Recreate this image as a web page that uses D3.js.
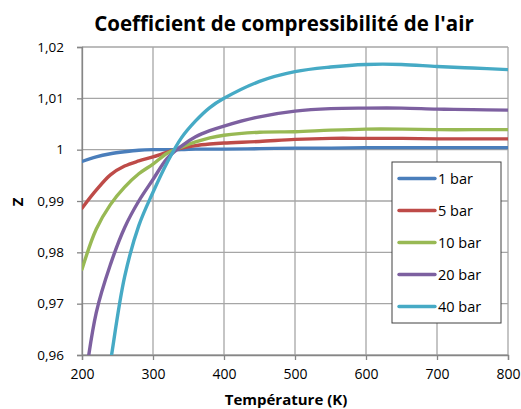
<!DOCTYPE html>
<html>
<head>
<meta charset="utf-8">
<script src="https://cdn.jsdelivr.net/npm/d3@7"></script>
<style>
  body { margin: 0; background: #fff; }
  text { font-family: "Open Sans", sans-serif; }
</style>
</head>
<body>
<div id="chart"></div>
<script>
// temperatures (K)
const temperatures = [200, 220, 240, 260, 280, 300, 320, 340, 360, 380, 400, 450, 500, 550, 600, 650, 700, 750, 800];

// Z values
const z1bar  = [0.9977, 0.9986, 0.9992, 0.9996, 0.9999, 1.0000, 1.0000, 1.0000, 1.0001, 1.0001, 1.0001, 1.0002, 1.0003, 1.0003, 1.0004, 1.0004, 1.0004, 1.0004, 1.0004];
const z5bar  = [0.9886, 0.9921, 0.9951, 0.9968, 0.9978, 0.9986, 0.9995, 1.0003, 1.0008, 1.0011, 1.0013, 1.0016, 1.0020, 1.0022, 1.0022, 1.0022, 1.0021, 1.0021, 1.0021];
const z10bar = [0.9767, 0.9845, 0.9893, 0.9927, 0.9953, 0.9972, 0.9993, 1.0005, 1.0015, 1.0023, 1.0028, 1.0034, 1.0035, 1.0038, 1.0040, 1.0040, 1.0039, 1.0039, 1.0039];
const z20bar = [0.9505, 0.9682, 0.9776, 0.9848, 0.9900, 0.9942, 0.9983, 1.0007, 1.0025, 1.0037, 1.0046, 1.0064, 1.0075, 1.0080, 1.0081, 1.0081, 1.0079, 1.0078, 1.0077];
const z40bar = [0.9180, 0.9400, 0.9585, 0.9752, 0.9852, 0.9917, 0.9975, 1.0023, 1.0056, 1.0082, 1.0100, 1.0133, 1.0152, 1.0161, 1.0166, 1.0166, 1.0162, 1.0159, 1.0156];

const seriesNames = ["1 bar", "5 bar", "10 bar", "20 bar", "40 bar"];
const seriesValues = [z1bar, z5bar, z10bar, z20bar, z40bar];
const colors = ["#4a7ebb", "#be4b48", "#98b954", "#7d60a0", "#46aac5"];

const xTicks = [200, 300, 400, 500, 600, 700, 800];
const yTicks = [0.96, 0.97, 0.98, 0.99, 1, 1.01, 1.02];

const width = 521, height = 409;
const margin = { top: 47, right: 13, bottom: 54, left: 82 };
const innerW = width - margin.left - margin.right;
const innerH = height - margin.top - margin.bottom;

const svg = d3.select("#chart").append("svg")
  .attr("width", width)
  .attr("height", height);

const x = d3.scaleLinear().domain([200, 800]).range([0, innerW]);
const y = d3.scaleLinear().domain([0.96, 1.02]).range([innerH, 0]);

const g = svg.append("g")
  .attr("transform", "translate(" + margin.left + "," + margin.top + ")");

svg.append("defs").append("clipPath").attr("id", "clip")
  .append("rect").attr("width", innerW).attr("height", innerH);

// grid
g.selectAll(".hgrid").data(yTicks).join("line")
  .attr("x1", 0).attr("x2", innerW)
  .attr("y1", d => y(d)).attr("y2", d => y(d))
  .attr("stroke", "#a6a6a6").attr("stroke-width", 1.3);

g.selectAll(".vgrid").data(xTicks).join("line")
  .attr("y1", 0).attr("y2", innerH)
  .attr("x1", d => x(d)).attr("x2", d => x(d))
  .attr("stroke", "#a6a6a6").attr("stroke-width", 1.3);

// axes
const fmt = d => d3.format(".2f")(d).replace(".", ",").replace(/^1,00$/, "1");

const yAxis = g.append("g").call(d3.axisLeft(y).tickValues(yTicks).tickSize(5).tickPadding(13).tickFormat(fmt));
const xAxis = g.append("g").attr("transform", "translate(0," + innerH + ")")
  .call(d3.axisBottom(x).tickValues(xTicks).tickSize(5).tickPadding(9).tickFormat(d3.format("d")));

[xAxis, yAxis].forEach(a => {
  a.select(".domain").attr("stroke", "#868686").attr("stroke-width", 1.3);
  a.selectAll(".tick line").attr("stroke", "#868686").attr("stroke-width", 1.3);
  a.selectAll(".tick text").attr("fill", "#000")
    .style("font-family", "'Open Sans', sans-serif");
});
yAxis.selectAll(".tick text").style("font-size", "13.5px");
xAxis.selectAll(".tick text").style("font-size", "14px");

// lines
const line = d3.line()
  .x((d, i) => x(temperatures[i]))
  .y(d => y(d))
  .curve(d3.curveCatmullRom);

g.append("g").attr("clip-path", "url(#clip)")
  .selectAll("path").data(seriesValues).join("path")
  .attr("d", d => line(d))
  .attr("fill", "none")
  .attr("stroke", (d, i) => colors[i])
  .attr("stroke-width", 3.4)
  .attr("stroke-linecap", "round");

// title
svg.append("text")
  .attr("x", 284).attr("y", 31)
  .attr("text-anchor", "middle")
  .style("font-size", "20.5px").style("font-weight", "bold")
  .text("Coefficient de compressibilité de l'air");

svg.append("text")
  .attr("x", 286).attr("y", 405)
  .attr("text-anchor", "middle")
  .style("font-size", "15px").style("font-weight", "bold")
  .text("Température (K)");

svg.append("text")
  .attr("transform", "translate(23,202) rotate(-90)")
  .attr("text-anchor", "middle")
  .style("font-size", "15px").style("font-weight", "bold")
  .text("Z");

// legend
const legend = svg.append("g").attr("transform", "translate(392,162)");
legend.append("rect")
  .attr("width", 109).attr("height", 161)
  .attr("fill", "#fff").attr("stroke", "#404040").attr("stroke-width", 1);

const items = legend.selectAll(".item").data(seriesNames).join("g")
  .attr("transform", (d, i) => "translate(0," + (16.5 + i * 32) + ")");
items.append("line")
  .attr("x1", 7).attr("x2", 43)
  .attr("stroke", (d, i) => colors[i]).attr("stroke-width", 3.4)
  .attr("stroke-linecap", "round");
items.append("text")
  .attr("x", 46).attr("dy", "0.35em")
  .style("font-size", "14.5px")
  .text(d => d);
</script>
</body>
</html>
